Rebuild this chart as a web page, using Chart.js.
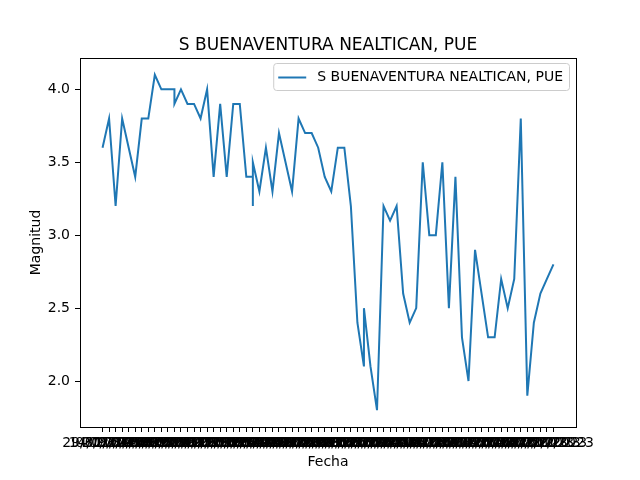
<!DOCTYPE html>
<html>
<head>
<meta charset="utf-8">
<script src="https://cdn.jsdelivr.net/npm/chart.js@4.4.1/dist/chart.umd.min.js"></script>
<style>
  html, body { margin: 0; padding: 0; background: #fff; }
  #wrap { width: 640px; height: 480px; }
</style>
</head>
<body>
<div id="wrap"><canvas id="graphic__mag"></canvas></div>
<script>
const seriesName = 'S BUENAVENTURA NEALTICAN, PUE';

// one entry per event, repeated dates share one category
const fechas = [
    '29/01/2019', '14/02/2019', '03/03/2019', '21/03/2019', '09/04/2019',
    '27/04/2019', '16/05/2019', '02/06/2019', '19/06/2019', '08/07/2019',
    '25/07/2019', '12/08/2019', '12/08/2019', '30/08/2019', '17/09/2019',
    '05/10/2019', '22/10/2019', '10/11/2019', '28/11/2019', '15/12/2019',
    '03/01/2020', '20/01/2020', '07/02/2020', '25/02/2020', '13/03/2020',
    '13/03/2020', '13/03/2020', '31/03/2020', '18/04/2020', '06/05/2020',
    '24/05/2020', '11/06/2020', '29/06/2020', '17/07/2020', '04/08/2020',
    '22/08/2020', '09/09/2020', '27/09/2020', '15/10/2020', '02/11/2020',
    '20/11/2020', '08/12/2020', '26/12/2020', '13/01/2021', '13/01/2021',
    '31/01/2021', '18/02/2021', '08/03/2021', '26/03/2021', '13/04/2021',
    '01/05/2021', '19/05/2021', '06/06/2021', '24/06/2021', '12/07/2021',
    '30/07/2021', '17/08/2021', '04/09/2021', '22/09/2021', '10/10/2021',
    '28/10/2021', '15/11/2021', '03/12/2021', '21/12/2021', '08/02/2022',
    '14/04/2022', '20/06/2022', '26/08/2022', '01/11/2022', '07/01/2023',
    '15/03/2023', '21/05/2023', '27/07/2023', '02/10/2023'
];

const magnitudes = [
    3.6, 3.8, 3.2, 3.8, 3.6,
    3.4, 3.8, 3.8, 4.1, 4.0,
    4.0, 4.0, 3.9, 4.0, 3.9,
    3.9, 3.8, 4.0, 3.4, 3.9,
    3.4, 3.9, 3.9, 3.4, 3.4,
    3.2, 3.5, 3.3, 3.6, 3.3,
    3.7, 3.5, 3.3, 3.8, 3.7,
    3.7, 3.6, 3.4, 3.3, 3.6,
    3.6, 3.2, 2.4, 2.1, 2.5,
    2.1, 1.8, 3.2, 3.1, 3.2,
    2.6, 2.4, 2.5, 3.5, 3.0,
    3.0, 3.5, 2.5, 3.4, 2.3,
    2.0, 2.9, 2.6, 2.3, 2.3,
    2.7, 2.5, 2.7, 3.8, 1.9,
    2.4, 2.6, 2.7, 2.8
];

const yTicks = [2.0, 2.5, 3.0, 3.5, 4.0];

// categories in order of first appearance (like a categorical axis)
const categorias = [];
fechas.forEach((f) => {
    if (!categorias.includes(f)) categorias.push(f);
});

const points = fechas.map((f, i) => ({ x: categorias.indexOf(f), y: magnitudes[i] }));

const FONT = 'DejaVu Sans';
const nCat = categorias.length - 1;
const xPad = nCat * 0.05;
const yMin = Math.min(...magnitudes);
const yMax = Math.max(...magnitudes);
const yPad = (yMax - yMin) * 0.05;

// box around the plot + legend inside top right
const framePlugin = {
    id: 'frame',
    afterDraw(chart) {
        const { ctx, chartArea: a } = chart;
        ctx.save();
        ctx.strokeStyle = '#000';
        ctx.lineWidth = 1;
        ctx.strokeRect(Math.round(a.left) + 0.5, Math.round(a.top) + 0.5,
            Math.round(a.right - a.left), Math.round(a.bottom - a.top));

        const ds = chart.data.datasets[0];
        ctx.font = '14px ' + FONT;
        const tw = ctx.measureText(ds.label).width;
        const w = tw + 50;
        const h = 27;
        const x = a.right - 7 - w;
        const y = a.top + 5;
        ctx.fillStyle = 'rgba(255,255,255,0.8)';
        ctx.strokeStyle = '#cccccc';
        ctx.beginPath();
        ctx.roundRect(x + 0.5, y + 0.5, w, h, 3);
        ctx.fill();
        ctx.stroke();
        ctx.strokeStyle = ds.borderColor;
        ctx.lineWidth = ds.borderWidth;
        ctx.beginPath();
        ctx.moveTo(x + 5, y + h / 2 + 1);
        ctx.lineTo(x + 33, y + h / 2 + 1);
        ctx.stroke();
        ctx.fillStyle = '#000';
        ctx.textBaseline = 'middle';
        ctx.fillText(ds.label, x + 44, y + h / 2 + 1);
        ctx.restore();
    }
};

const ctx = document.querySelector('#graphic__mag').getContext('2d');
const config = {
    type: 'line',
    data: {
        datasets: [
            {
                label: seriesName,
                data: points,
                borderColor: '#1f77b4',
                borderWidth: 2,
                pointRadius: 0,
                pointHoverRadius: 0,
                tension: 0,
                fill: false,
            }
        ]
    },
    options: {
        responsive: true,
        maintainAspectRatio: false,
        animation: false,
        devicePixelRatio: 1,
        layout: { padding: { top: 0, right: 64, left: 0, bottom: 0 } },
        plugins: {
            title: {
                display: true,
                fullSize: false,
                text: seriesName,
                color: '#000',
                font: { size: 17, family: FONT, weight: 'normal' },
                padding: { top: 35, bottom: 2.6 }
            },
            legend: { display: false },
            tooltip: { enabled: false }
        },
        scales: {
            x: {
                type: 'linear',
                min: -xPad,
                max: nCat + xPad,
                afterBuildTicks: (scale) => {
                    scale.ticks = categorias.map((_, i) => ({ value: i }));
                },
                afterFit: (scale) => { scale.height = 53; },
                grid: {
                    drawOnChartArea: false,
                    drawTicks: true,
                    tickLength: 5,
                    tickColor: '#000',
                },
                border: { display: false },
                ticks: {
                    autoSkip: false,
                    maxRotation: 0,
                    minRotation: 0,
                    padding: 3,
                    color: '#000',
                    font: { size: 14, family: FONT },
                    callback: (v) => categorias[v] ?? ''
                },
                title: {
                    display: true,
                    text: 'Fecha',
                    color: '#000',
                    font: { size: 14, family: FONT },
                    padding: { top: 0, bottom: 9.6 }
                }
            },
            y: {
                type: 'linear',
                min: yMin - yPad,
                max: yMax + yPad,
                afterBuildTicks: (scale) => {
                    scale.ticks = yTicks.map((v) => ({ value: v }));
                },
                afterFit: (scale) => { scale.width = 80; },
                grid: {
                    drawOnChartArea: false,
                    drawTicks: true,
                    tickLength: 5,
                    tickColor: '#000',
                },
                border: { display: false },
                ticks: {
                    padding: 5,
                    color: '#000',
                    font: { size: 14, family: FONT },
                    callback: (v) => Number(v).toFixed(1)
                },
                title: {
                    display: true,
                    text: 'Magnitud',
                    color: '#000',
                    font: { size: 14, family: FONT },
                    padding: { top: 27.6, bottom: 0 }
                }
            }
        }
    },
    plugins: [framePlugin]
};
const chart = new Chart(ctx, config);
</script>
</body>
</html>
